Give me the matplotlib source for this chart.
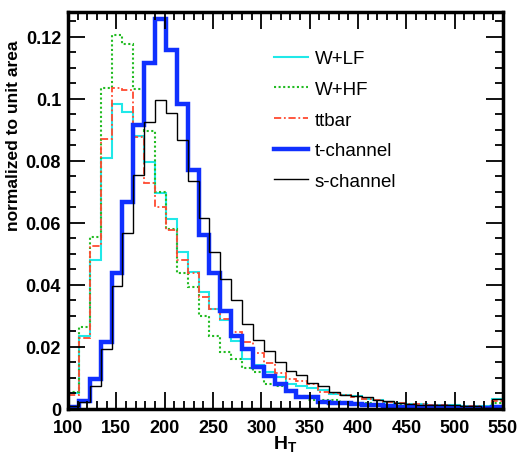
import numpy as np
import matplotlib
matplotlib.use("Agg")
import matplotlib.pyplot as plt
from matplotlib.lines import Line2D
from matplotlib.ticker import MultipleLocator

plt.rcParams['font.family'] = ['Liberation Sans', 'DejaVu Sans']
plt.rcParams['mathtext.fontset'] = 'custom'
plt.rcParams['mathtext.bf'] = 'Liberation Sans:bold'
plt.rcParams['mathtext.rm'] = 'Liberation Sans'

# H_T histogram, 40 bins from 100 to 550
edges = np.linspace(100, 550, 41)

w_lf = [0.0050, 0.0234, 0.0481, 0.0810, 0.0983, 0.0958, 0.0880, 0.0795, 0.0698, 0.0614,
        0.0506, 0.0442, 0.0376, 0.0324, 0.0288, 0.0220, 0.0161, 0.0143, 0.0120, 0.0102,
        0.0080, 0.0075, 0.0068, 0.0062, 0.0048, 0.0045, 0.0041, 0.0032, 0.0029, 0.0024,
        0.0018, 0.0016, 0.0015, 0.0014, 0.0013, 0.0012, 0.0011, 0.0010, 0.0009, 0.0032]

w_hf = [0.0056, 0.0263, 0.0553, 0.1034, 0.1205, 0.1176, 0.1033, 0.0897, 0.0699, 0.0580,
        0.0440, 0.0394, 0.0299, 0.0234, 0.0183, 0.0161, 0.0131, 0.0118, 0.0080, 0.0075,
        0.0055, 0.0043, 0.0029, 0.0029, 0.0029, 0.0022, 0.0020, 0.0018, 0.0016, 0.0014,
        0.0012, 0.0011, 0.0010, 0.0009, 0.0008, 0.0007, 0.0007, 0.0006, 0.0006, 0.0020]

ttbar = [0.0045, 0.0228, 0.0526, 0.0870, 0.1035, 0.1028, 0.0878, 0.0730, 0.0650, 0.0578,
         0.0480, 0.0440, 0.0362, 0.0322, 0.0290, 0.0249, 0.0217, 0.0180, 0.0147, 0.0116,
         0.0098, 0.0089, 0.0082, 0.0056, 0.0052, 0.0045, 0.0038, 0.0033, 0.0028, 0.0024,
         0.0020, 0.0017, 0.0015, 0.0013, 0.0012, 0.0011, 0.0010, 0.0009, 0.0008, 0.0025]

t_chan = [0.0005, 0.0027, 0.0097, 0.0217, 0.0437, 0.0668, 0.0917, 0.1115, 0.1259, 0.1157,
          0.0983, 0.0770, 0.0562, 0.0440, 0.0317, 0.0236, 0.0193, 0.0136, 0.0107, 0.0080,
          0.0057, 0.0040, 0.0038, 0.0022, 0.0020, 0.0018, 0.0015, 0.0013, 0.0013, 0.0010,
          0.0008, 0.0007, 0.0006, 0.0005, 0.0005, 0.0004, 0.0004, 0.0003, 0.0003, 0.0006]

s_chan = [0.0010, 0.0023, 0.0075, 0.0193, 0.0397, 0.0566, 0.0755, 0.0924, 0.0997, 0.0954,
          0.0867, 0.0734, 0.0616, 0.0505, 0.0419, 0.0352, 0.0274, 0.0222, 0.0186, 0.0150,
          0.0123, 0.0110, 0.0085, 0.0075, 0.0056, 0.0045, 0.0041, 0.0038, 0.0030, 0.0025,
          0.0019, 0.0015, 0.0013, 0.0013, 0.0012, 0.0012, 0.0010, 0.0010, 0.0004, 0.0032]

labels = ["W+LF", "W+HF", "ttbar", "t-channel", "s-channel"]
x_ticks = [100, 150, 200, 250, 300, 350, 400, 450, 500, 550]
y_ticks = [0, 0.02, 0.04, 0.06, 0.08, 0.1, 0.12]
y_tick_labels = ["0", "0.02", "0.04", "0.06", "0.08", "0.1", "0.12"]

styles = [
    dict(color='#20e8e8', lw=1.5, ls='-'),
    dict(color='#22bb22', lw=1.5, ls=(0, (1, 1.2))),
    dict(color='#ff4a30', lw=1.3, ls=(0, (4, 1.5, 1, 1.5))),
    dict(color='#1030ff', lw=3.2, ls='-'),
    dict(color='black', lw=1.0, ls='-'),
]

fig = plt.figure(figsize=(5.21, 4.56), dpi=100)
ax = fig.add_axes([68/521, 46/456, 435/521, 397/456])

series = [w_lf, w_hf, ttbar, t_chan, s_chan]
handles = []
for vals, st, lab in zip(series, styles, labels):
    ax.stairs(vals, edges, baseline=None, color=st['color'], linewidth=st['lw'],
              linestyle=st['ls'])
    handles.append(Line2D([], [], color=st['color'], linewidth=st['lw'],
                          linestyle=st['ls']))

ax.set_xlim(100, 550)
ax.set_ylim(0, 0.128)

ax.set_xticks(x_ticks)
ax.set_yticks(y_ticks)
ax.set_yticklabels(y_tick_labels)
ax.xaxis.set_minor_locator(MultipleLocator(10))
ax.yaxis.set_minor_locator(MultipleLocator(0.005))
ax.tick_params(which='both', direction='in', top=True, right=True, width=1.3)
ax.tick_params(which='major', length=12, labelsize=13, pad=5)
ax.tick_params(axis='x', which='major', pad=7)
ax.tick_params(which='minor', length=6)
for lab in ax.get_xticklabels() + ax.get_yticklabels():
    lab.set_fontweight('bold')
for sp in ax.spines.values():
    sp.set_linewidth(2.5)

ax.set_xlabel(r'$\mathbf{H_T}$', fontsize=14, labelpad=-2)
ax.set_ylabel('normalized to unit area', fontsize=12.5, fontweight='bold')
ax.yaxis.set_label_coords(-0.108, 0.69)

leg = ax.legend(handles, labels, loc='upper left', frameon=False,
                bbox_to_anchor=(261/521, 1 - 38/456), bbox_transform=fig.transFigure,
                fontsize=13.5, handlelength=1.8, handletextpad=0.35,
                labelspacing=0.72, borderpad=0.2)

fig.savefig('out.png', dpi=100)
